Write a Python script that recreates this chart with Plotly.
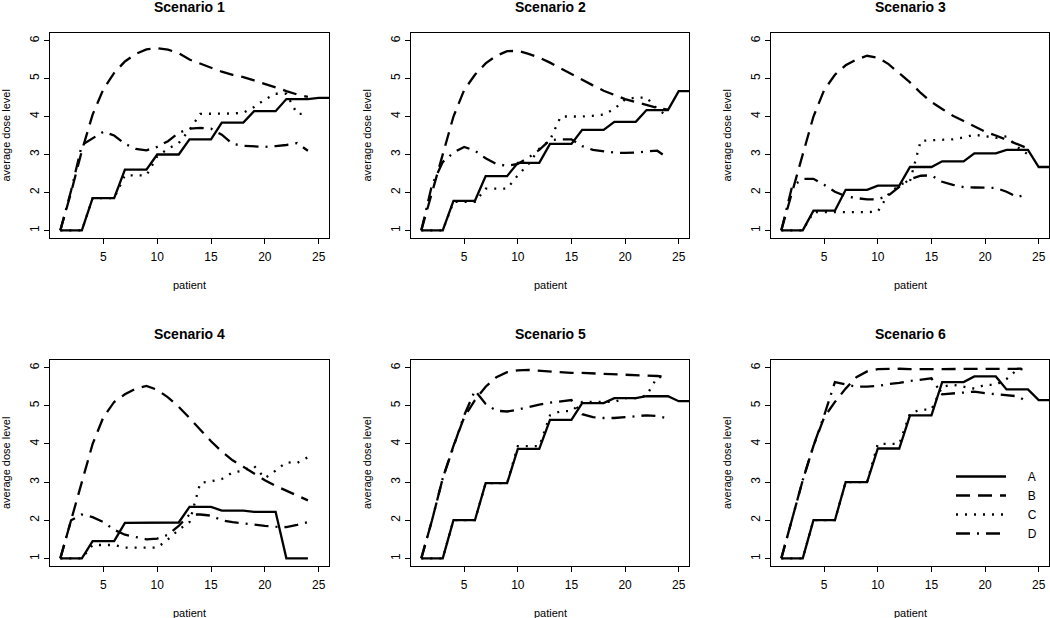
import plotly.graph_objects as go

# ---------------- data ----------------
patients = list(range(1, 25))
patients_a = list(range(1, 27))
patients_a4 = list(range(1, 25))
scenario_titles = ["Scenario 1", "Scenario 2", "Scenario 3", "Scenario 4", "Scenario 5", "Scenario 6"]
series_names = ["A", "B", "C", "D"]
x_ticks = [5, 10, 15, 20, 25]
y_ticks = [1, 2, 3, 4, 5, 6]

A1 = [1, 1, 1, 1.85, 1.85, 1.85, 2.6, 2.6, 2.6, 3.0, 3.0, 3.0, 3.4, 3.4, 3.4, 3.84, 3.84, 3.84, 4.14, 4.14, 4.14, 4.46, 4.46, 4.46, 4.49, 4.49]
B1 = [1, 2.0, 3.1, 4.05, 4.72, 5.15, 5.45, 5.65, 5.77, 5.8, 5.76, 5.67, 5.5, 5.39, 5.28, 5.18, 5.1, 5.04, 4.95, 4.87, 4.77, 4.67, 4.58, 4.52]
C1 = [1, 1, 1, 1.85, 1.85, 1.85, 2.45, 2.45, 2.45, 2.95, 3.15, 3.3, 3.65, 4.07, 4.07, 4.07, 4.08, 4.1, 4.25, 4.45, 4.6, 4.6, 4.07, 4.07]
D1 = [1, 2.05, 3.25, 3.42, 3.6, 3.5, 3.28, 3.15, 3.11, 3.2, 3.35, 3.57, 3.68, 3.7, 3.68, 3.52, 3.28, 3.23, 3.21, 3.2, 3.22, 3.25, 3.3, 3.1]

A2 = [1, 1, 1, 1.78, 1.78, 1.78, 2.43, 2.43, 2.43, 2.78, 2.78, 2.78, 3.28, 3.28, 3.28, 3.65, 3.65, 3.65, 3.86, 3.86, 3.86, 4.17, 4.17, 4.17, 4.67, 4.67]
B2 = [1, 2.0, 3.05, 4.0, 4.7, 5.1, 5.4, 5.6, 5.72, 5.73, 5.65, 5.55, 5.42, 5.27, 5.1, 4.95, 4.82, 4.68, 4.56, 4.46, 4.38, 4.3, 4.23, 4.18]
C2 = [1, 1, 1, 1.75, 1.75, 1.75, 2.1, 2.1, 2.1, 2.45, 2.75, 3.15, 3.38, 4.0, 4.0, 4.0, 4.02, 4.05, 4.2, 4.45, 4.5, 4.5, 4.2, 4.0]
D2 = [1, 2.2, 2.8, 3.05, 3.2, 3.1, 2.9, 2.75, 2.7, 2.75, 2.92, 3.12, 3.38, 3.4, 3.4, 3.22, 3.12, 3.08, 3.05, 3.04, 3.05, 3.08, 3.1, 2.9]

A3 = [1, 1, 1, 1.52, 1.52, 1.52, 2.07, 2.07, 2.07, 2.18, 2.18, 2.18, 2.67, 2.67, 2.67, 2.82, 2.82, 2.82, 3.03, 3.03, 3.03, 3.12, 3.12, 3.12, 2.67, 2.67]
B3 = [1, 2.0, 3.05, 4.0, 4.7, 5.1, 5.35, 5.5, 5.6, 5.55, 5.38, 5.15, 4.9, 4.62, 4.38, 4.2, 4.02, 3.88, 3.73, 3.6, 3.5, 3.38, 3.26, 3.16]
C3 = [1, 1, 1, 1.48, 1.48, 1.48, 1.48, 1.48, 1.48, 1.5, 1.95, 2.2, 2.3, 3.36, 3.38, 3.38, 3.4, 3.45, 3.52, 3.48, 3.44, 3.48, 3.2, 3.0]
D3 = [1, 2.15, 2.36, 2.36, 2.2, 2.02, 1.9, 1.85, 1.82, 1.82, 1.92, 2.15, 2.35, 2.44, 2.45, 2.28, 2.2, 2.14, 2.13, 2.13, 2.12, 2.02, 1.88, 1.95]

A4 = [1, 1, 1, 1.45, 1.45, 1.45, 1.93, 1.93, 1.93, 1.94, 1.94, 1.94, 2.35, 2.35, 2.35, 2.25, 2.25, 2.25, 2.22, 2.22, 2.22, 1, 1, 1]
B4 = [1, 2.0, 3.05, 4.0, 4.7, 5.1, 5.3, 5.45, 5.52, 5.42, 5.22, 4.97, 4.68, 4.37, 4.07, 3.8, 3.57, 3.4, 3.22, 3.05, 2.9, 2.77, 2.64, 2.52]
C4 = [1, 1, 1, 1.35, 1.35, 1.35, 1.28, 1.28, 1.28, 1.28, 1.5, 1.75, 1.95, 2.98, 3.02, 3.08, 3.25, 3.3, 3.42, 3.1, 3.3, 3.52, 3.5, 3.65]
D4 = [1, 2.0, 2.15, 2.08, 1.95, 1.75, 1.62, 1.55, 1.5, 1.52, 1.62, 1.85, 2.15, 2.15, 2.12, 2.0, 1.95, 1.92, 1.88, 1.85, 1.83, 1.82, 1.88, 1.95]

A5 = [1, 1, 1, 2.0, 2.0, 2.0, 2.97, 2.97, 2.97, 3.87, 3.87, 3.87, 4.63, 4.63, 4.63, 5.07, 5.07, 5.07, 5.2, 5.2, 5.2, 5.25, 5.25, 5.25, 5.12, 5.12]
B5 = [1, 2.0, 3.1, 3.95, 4.7, 5.15, 5.5, 5.75, 5.88, 5.93, 5.94, 5.92, 5.9, 5.87, 5.86, 5.86, 5.85, 5.84, 5.83, 5.82, 5.81, 5.8, 5.78, 5.76]
C5 = [1, 1, 1, 2.0, 2.0, 2.0, 2.97, 2.97, 2.97, 3.94, 3.94, 3.94, 4.75, 4.86, 4.86, 5.1, 5.1, 5.1, 5.1, 5.2, 5.2, 5.27, 5.75, 5.76]
D5 = [1, 2.0, 3.1, 3.95, 4.75, 5.4, 5.05, 4.87, 4.85, 4.9, 4.97, 5.03, 5.08, 5.12, 5.15, 4.78, 4.7, 4.68, 4.68, 4.7, 4.73, 4.75, 4.73, 4.67]

A6 = [1, 1, 1, 2.0, 2.0, 2.0, 3.0, 3.0, 3.0, 3.88, 3.88, 3.88, 4.75, 4.75, 4.75, 5.62, 5.62, 5.62, 5.77, 5.77, 5.77, 5.43, 5.43, 5.43, 5.15, 5.15]
B6 = [1, 2.0, 3.05, 3.95, 4.7, 5.1, 5.45, 5.75, 5.9, 5.96, 5.97, 5.97, 5.96, 5.96, 5.96, 5.96, 5.96, 5.96, 5.96, 5.96, 5.97, 5.97, 5.97, 5.98]
C6 = [1, 1, 1, 2.0, 2.0, 2.0, 3.0, 3.0, 3.0, 4.0, 4.0, 4.0, 4.8, 4.9, 4.9, 5.5, 5.55, 5.5, 5.45, 5.55, 5.55, 5.7, 5.95, 5.97]
D6 = [1, 2.0, 3.05, 3.95, 4.75, 5.62, 5.55, 5.5, 5.5, 5.52, 5.57, 5.6, 5.65, 5.68, 5.72, 5.3, 5.33, 5.35, 5.37, 5.33, 5.3, 5.28, 5.25, 5.1]

scenarios = [
    (patients_a, A1, B1, C1, D1),
    (patients_a, A2, B2, C2, D2),
    (patients_a, A3, B3, C3, D3),
    (patients_a4, A4, B4, C4, D4),
    (patients_a, A5, B5, C5, D5),
    (patients_a, A6, B6, C6, D6),
]

# ---------------- styling ----------------
W, H = 1050, 618
FONT = "Liberation Sans, Arial, Helvetica, sans-serif"
dash_styles = ["solid", "14px,8px", "2px,7px", "14px,7px,2px,7px"]
line_w = 2.3
NBSP = "\u00a0"

# panel boxes in pixels: (left, right, top, bottom)
col_px = [(50, 329), (411, 689), (771, 1049)]
row_px = [(33, 238), (360, 566)]

fig = go.Figure()
annotations = []
layout_axes = {}

for i, (pa, a, b, c, d) in enumerate(scenarios):
    r, cc = divmod(i, 3)
    left, right = col_px[cc]
    top, bottom = row_px[r]
    n = i + 1
    xa = "x" if n == 1 else f"x{n}"
    ya = "y" if n == 1 else f"y{n}"
    xkey = "xaxis" if n == 1 else f"xaxis{n}"
    ykey = "yaxis" if n == 1 else f"yaxis{n}"

    common = dict(showline=True, mirror=True, linecolor="black", linewidth=1,
                  ticks="outside", ticklen=5, tickwidth=1, tickcolor="black",
                  showgrid=False, zeroline=False,
                  tickfont=dict(family=FONT, size=12, color="black"))
    layout_axes[xkey] = dict(domain=[left / W, right / W], anchor=ya,
                             range=[0.04, 25.96], tickmode="array", tickvals=x_ticks,
                             ticklabelstandoff=3, **common)
    layout_axes[ykey] = dict(domain=[1 - bottom / H, 1 - top / H], anchor=xa,
                             range=[0.8, 6.2], tickmode="array", tickvals=y_ticks,
                             tickangle=-90, **common)

    for k, (name, xs, ys) in enumerate(zip(series_names,
                                            [pa, patients, patients, patients],
                                            [a, b, c, d])):
        fig.add_trace(go.Scatter(
            x=xs, y=ys, mode="lines", name=NBSP * 5 + name, xaxis=xa, yaxis=ya,
            line=dict(color="black", width=line_w, dash=dash_styles[k]),
            showlegend=(n == 6), hoverinfo="skip"))

    cx = (left + right) / 2
    annotations.append(dict(text=f"<b>{scenario_titles[i]}</b>", x=cx / W, y=1 - (top - 26) / H,
                            xref="paper", yref="paper", showarrow=False,
                            xanchor="center", yanchor="middle",
                            font=dict(family=FONT, size=14, color="black")))
    annotations.append(dict(text="patient", x=cx / W, y=1 - (bottom + 47) / H,
                            xref="paper", yref="paper", showarrow=False,
                            xanchor="center", yanchor="middle",
                            font=dict(family=FONT, size=11, color="black")))
    annotations.append(dict(text="average dose level", x=(left - 44) / W,
                            y=1 - ((top + bottom) / 2) / H,
                            xref="paper", yref="paper", showarrow=False, textangle=-90,
                            xanchor="center", yanchor="middle",
                            font=dict(family=FONT, size=11, color="black")))

fig.update_layout(
    width=W, height=H,
    margin=dict(l=0, r=0, t=0, b=0),
    paper_bgcolor="white", plot_bgcolor="white",
    font=dict(family=FONT, size=12, color="black"),
    annotations=annotations,
    showlegend=True,
    hovermode=False,
    legend=dict(x=951 / W, y=1 - 462 / H, xanchor="left", yanchor="top",
                bgcolor="rgba(0,0,0,0)", borderwidth=0,
                font=dict(family=FONT, size=12, color="black"),
                itemwidth=50, tracegroupgap=0),
    **layout_axes,
)

fig.write_html(
    "out.html",
    config={"displayModeBar": False},
    post_script="document.body.style.margin='0';document.body.style.overflow='hidden';",
)
